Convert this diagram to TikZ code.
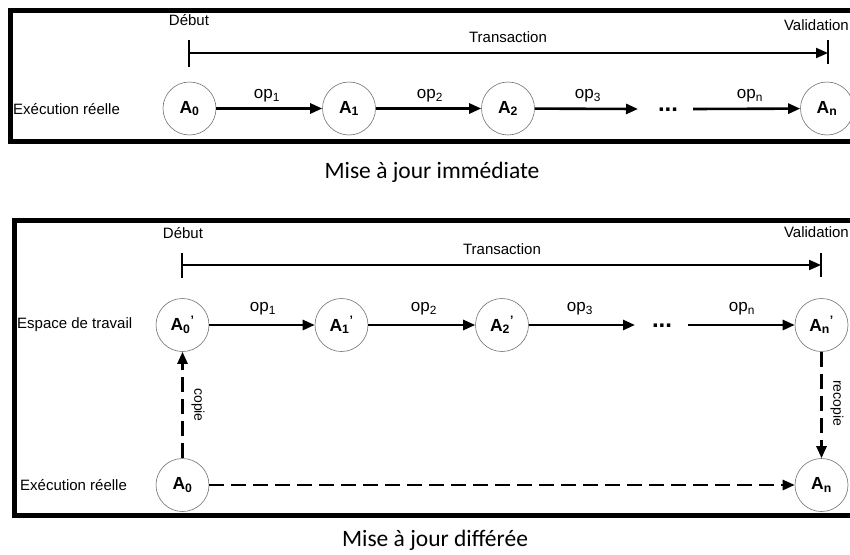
\documentclass[tikz,border=0pt]{standalone}
\usepackage{fontspec}
\setmainfont{Liberation Sans}
\newfontfamily\capfont{Carlito}
\usetikzlibrary{arrows.meta}
\newcommand{\Asub}[1]{A\textsubscript{#1}}
\newcommand{\Aprime}[1]{A\textsubscript{#1}\textsuperscript{'}}
\begin{document}
\begin{tikzpicture}[x=1pt,y=-1pt,
  framebox/.style={draw=black,line width=5pt},
  state/.style={circle,draw=black!55,line width=0.6pt,minimum size=53pt,inner sep=0pt,fill=white,font=\bfseries\fontsize{17.5}{17.5}\selectfont},
  lbl/.style={font=\fontsize{15}{15}\selectfont,inner sep=0pt},
  oplbl/.style={font=\fontsize{17}{17}\selectfont,inner sep=0pt},
  captext/.style={font=\capfont\fontsize{23.5}{24}\selectfont,inner sep=0pt},
  flow/.style={line width=2.6pt,-{Triangle[length=12pt,width=10pt]}},
  dflow/.style={flow,dash pattern=on 15pt off 7pt},
  tickline/.style={line width=2.4pt},
  spanline/.style={line width=2pt,-{Triangle[length=12pt,width=10pt]}},
  dotstext/.style={font=\bfseries\fontsize{24}{24}\selectfont,inner sep=0pt,anchor=base}]
\useasboundingbox (0,0) rectangle (850,554);
\clip (0,0) rectangle (850,554);
% ===== top panel =====
\draw[framebox] (10.5,10) rectangle (880,141);
\node[lbl] (deb1) at (189,20) {Début};
\coordinate (t1a) at (189,40);
\coordinate (t1b) at (189,67);
\coordinate (t1s) at (189,53);
\coordinate (v1a) at (828,40);
\coordinate (v1b) at (828,64);
\coordinate (v1s) at (828,53);
\draw[tickline] (t1a) -- (t1b);
\draw[tickline] (v1a) -- (v1b);
\draw[spanline] (t1s) -- (v1s);
\node[lbl] (tr1) at (508,37) {Transaction};
\node[lbl,anchor=east] (val1) at (849,25) {Validation};
\node[lbl,anchor=west] (ex1) at (13,109) {Exécution réelle};
\node[state] (a0) at (189.5,108.5) {\Asub{0}};
\node[state] (a1) at (349,108.5) {\Asub{1}};
\node[state] (a2) at (508,108.5) {\Asub{2}};
\node[dotstext] (d1) at (668,111) {...};
\node[state] (an) at (827,108.5) {\Asub{n}};
\coordinate (d1w) at (638,109);
\coordinate (d1e) at (693,109);
\draw[flow] (a0) -- (a1);
\draw[flow] (a1) -- (a2);
\draw[flow] (a2) -- (d1w);
\draw[flow] (d1e) -- (an);
\node[oplbl] (op11) at (267,96) {op\textsubscript{1}};
\node[oplbl] (op12) at (430,96) {op\textsubscript{2}};
\node[oplbl] (op13) at (588,96) {op\textsubscript{3}};
\node[oplbl] (op1n) at (750,96) {op\textsubscript{n}};
\node[captext] (cap1) at (432,172) {Mise à jour immédiate};
% ===== bottom panel =====
\draw[framebox] (14,220) rectangle (880,515);
\node[lbl] (deb2) at (183,233) {Début};
\coordinate (t2a) at (182,253);
\coordinate (t2b) at (182,278);
\coordinate (t2s) at (182,265);
\coordinate (v2a) at (821,253);
\coordinate (v2b) at (821,277);
\coordinate (v2s) at (821,265);
\draw[tickline] (t2a) -- (t2b);
\draw[tickline] (v2a) -- (v2b);
\draw[spanline] (t2s) -- (v2s);
\node[lbl] (tr2) at (502,249) {Transaction};
\node[lbl,anchor=east] (val2) at (849,232) {Validation};
\node[lbl,anchor=west] (esp) at (17,325) {Espace de travail};
\node[lbl,anchor=west] (ex2) at (20,485) {Exécution réelle};
\node[state] (b0) at (182.5,325) {\Aprime{0}};
\node[state] (b1) at (341.5,325) {\Aprime{1}};
\node[state] (b2) at (502,325) {\Aprime{2}};
\node[dotstext] (d2) at (662,327) {...};
\node[state] (bn) at (821.5,325) {\Aprime{n}};
\coordinate (d2w) at (635,325);
\coordinate (d2e) at (688,325);
\draw[flow] (b0) -- (b1);
\draw[flow] (b1) -- (b2);
\draw[flow] (b2) -- (d2w);
\draw[flow] (d2e) -- (bn);
\node[oplbl] (op21) at (263,309) {op\textsubscript{1}};
\node[oplbl] (op22) at (424,309) {op\textsubscript{2}};
\node[oplbl] (op23) at (580,309) {op\textsubscript{3}};
\node[oplbl] (op2n) at (742,309) {op\textsubscript{n}};
\node[state] (r0) at (182.5,485) {\Asub{0}};
\node[state] (rn) at (821.5,485) {\Asub{n}};
\draw[dflow] (r0) -- (rn);
\draw[dflow] (r0) -- (b0);
\draw[dflow] (bn) -- (rn);
\node[lbl,rotate=-90,font=\fontsize{14}{14}\selectfont] (cop) at (198,405) {copie};
\node[lbl,rotate=-90,font=\fontsize{14}{14}\selectfont] (recop) at (837,403) {recopie};
\node[captext] (cap2) at (435,540) {Mise à jour différée};
\end{tikzpicture}
\end{document}
